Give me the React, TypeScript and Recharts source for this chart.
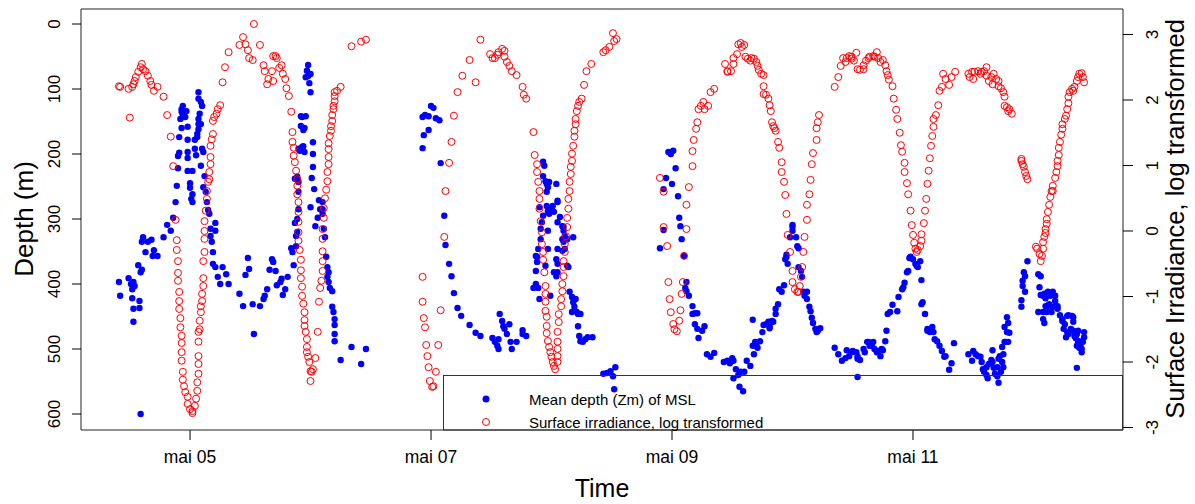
import { ScatterChart, Scatter, XAxis, YAxis, ReferenceArea } from 'recharts';

// time in days of May, depth in m, irradiance log-transformed
const timeTicks = [5, 7, 9, 11];
const depthTicks = [0, 100, 200, 300, 400, 500, 600];
const irradianceTicks = [-3, -2, -1, 0, 1, 2, 3];

const depthPoints: [number, number][] = [
  [4.41, 397], [4.42, 418], [4.49, 391], [4.51, 400], [4.52, 408], [4.53, 397], [4.54, 403], [4.52, 422], [4.53, 438],
  [4.58, 426], [4.58, 437], [4.53, 458], [4.57, 371], [4.59, 382], [4.6, 378], [4.59, 600], [4.61, 328], [4.6, 335],
  [4.63, 351], [4.65, 335], [4.68, 332], [4.7, 348], [4.69, 357], [4.73, 357], [4.78, 328], [4.81, 309], [4.84, 318],
  [4.86, 298], [4.88, 274], [4.89, 249], [4.9, 222], [4.9, 203], [4.91, 198], [4.91, 174], [4.93, 160], [4.92, 146],
  [4.93, 135], [4.93, 131], [4.94, 126], [4.94, 140], [4.96, 143], [4.97, 134], [4.98, 158], [4.98, 178], [4.98, 197],
  [4.98, 206], [4.98, 226], [5.0, 245], [5.0, 252], [5.02, 226], [5.01, 269], [5.02, 274], [5.02, 262], [5.04, 192],
  [5.05, 202], [5.07, 105], [5.07, 115], [5.09, 120], [5.1, 126], [5.08, 138], [5.07, 146], [5.07, 154], [5.07, 162],
  [5.09, 154], [5.06, 169], [5.04, 178], [5.06, 174], [5.1, 192], [5.11, 197], [5.09, 218], [5.12, 234], [5.11, 251],
  [5.13, 258], [5.14, 274], [5.15, 286], [5.16, 292], [5.17, 315], [5.17, 326], [5.18, 335], [5.19, 351], [5.21, 306],
  [5.21, 318], [5.19, 369], [5.21, 374], [5.23, 389], [5.25, 400], [5.27, 374], [5.3, 385], [5.32, 400], [5.41, 415],
  [5.44, 434], [5.46, 386], [5.48, 360], [5.49, 377], [5.52, 431], [5.53, 477], [5.58, 434], [5.61, 423], [5.62, 418],
  [5.64, 408], [5.66, 378], [5.68, 362], [5.69, 366], [5.71, 380], [5.72, 402], [5.75, 397], [5.76, 392], [5.77, 417],
  [5.79, 408], [5.81, 389], [5.84, 345], [5.85, 351], [5.86, 371], [5.88, 342], [5.88, 326], [5.89, 320], [5.87, 306],
  [5.89, 300], [5.9, 285], [5.9, 258], [5.9, 243], [5.87, 238], [5.89, 235], [5.91, 195], [5.93, 189], [5.94, 188],
  [5.95, 197], [5.9, 192], [5.92, 142], [5.93, 143], [5.96, 142], [5.92, 157], [5.94, 163], [5.95, 160], [5.98, 63],
  [5.97, 72], [5.96, 82], [5.98, 80], [6.0, 77], [5.99, 91], [6.0, 105], [6.02, 182], [6.02, 200], [6.02, 220],
  [6.01, 237], [6.03, 254], [6.0, 282], [6.07, 271], [6.1, 274], [6.1, 285], [6.08, 285], [6.1, 292], [6.06, 298],
  [6.04, 311], [6.11, 315], [6.12, 328], [6.13, 358], [6.14, 374], [6.15, 382], [6.14, 389], [6.15, 397], [6.16, 406],
  [6.18, 411], [6.18, 435], [6.19, 443], [6.2, 454], [6.2, 463], [6.2, 477], [6.2, 488], [6.25, 517], [6.34, 497],
  [6.42, 523], [6.46, 500],
  [6.93, 143], [6.95, 140], [6.98, 142], [7.0, 126], [7.02, 129], [7.04, 145], [7.07, 148], [6.94, 171], [6.98, 163],
  [6.93, 191], [7.08, 214], [7.11, 295], [7.12, 340], [7.15, 369], [7.17, 388], [7.19, 414], [7.22, 437], [7.25, 449],
  [7.32, 463], [7.37, 475], [7.41, 480], [7.51, 483], [7.53, 489], [7.55, 495], [7.56, 500], [7.56, 485], [7.57, 446],
  [7.59, 457], [7.6, 465], [7.61, 469], [7.63, 477], [7.65, 462], [7.66, 489], [7.67, 500], [7.71, 489], [7.76, 471],
  [7.76, 477], [7.79, 480], [7.85, 406], [7.87, 400], [7.89, 406], [7.9, 423], [7.87, 380], [7.88, 366], [7.88, 358],
  [7.89, 346], [7.87, 357], [7.91, 331], [7.91, 315], [7.92, 305], [7.93, 295], [7.9, 282], [7.93, 212], [7.94, 218],
  [7.93, 234], [7.95, 242], [7.96, 246], [7.97, 251], [7.98, 243], [7.96, 258], [7.96, 280], [7.97, 288], [7.98, 292],
  [8.0, 285], [8.01, 280], [8.02, 289], [8.05, 272], [8.05, 274], [8.04, 246], [8.05, 305], [8.07, 297], [8.09, 311],
  [8.1, 318], [8.1, 312], [8.11, 326], [8.13, 331], [8.09, 331], [8.1, 335], [8.11, 346], [8.09, 349], [8.05, 346],
  [8.04, 362], [8.05, 369], [8.13, 372], [8.14, 374], [8.18, 328], [8.02, 382], [8.04, 388], [8.05, 382], [7.97, 318],
  [7.97, 346], [7.99, 418], [7.95, 372], [8.15, 412], [8.17, 420], [8.18, 428], [8.19, 435], [8.17, 443], [8.2, 423],
  [8.21, 443], [8.22, 446], [8.24, 446], [8.22, 465], [8.23, 480], [8.24, 488], [8.26, 489], [8.28, 485], [8.3, 482],
  [8.34, 482], [8.43, 538], [8.46, 537], [8.49, 534], [8.51, 542], [8.53, 528], [8.52, 562],
  [8.97, 197], [8.99, 200], [9.01, 195], [9.03, 222], [8.95, 237], [8.93, 254], [9.0, 246], [9.05, 265], [9.06, 298],
  [9.07, 311], [8.93, 317], [8.9, 345], [9.08, 331], [9.1, 357], [9.12, 397], [9.11, 406], [9.12, 411], [9.14, 418],
  [9.17, 434], [9.17, 446], [9.19, 445], [9.21, 445], [9.19, 462], [9.21, 469], [9.22, 483], [9.27, 465], [9.25, 472],
  [9.29, 508], [9.32, 512], [9.35, 506], [9.43, 520], [9.46, 518], [9.48, 522], [9.5, 514], [9.51, 518], [9.53, 531],
  [9.55, 540], [9.51, 545], [9.57, 535], [9.6, 535], [9.56, 558], [9.59, 565], [9.62, 518], [9.65, 526], [9.67, 455],
  [9.67, 495], [9.68, 508], [9.7, 495], [9.71, 498], [9.69, 489], [9.73, 488], [9.75, 474], [9.76, 463], [9.78, 462],
  [9.8, 458], [9.81, 465], [9.83, 457], [9.84, 458], [9.81, 468], [9.86, 446], [9.86, 438], [9.88, 431], [9.89, 408],
  [9.91, 412], [9.93, 402], [9.94, 362], [9.95, 358], [9.95, 355], [9.96, 369], [9.98, 328], [10.0, 318], [10.0, 312],
  [10.0, 309], [10.03, 328], [10.04, 342], [10.05, 345], [10.05, 374], [10.07, 380], [10.08, 389], [10.09, 412],
  [10.1, 418], [10.12, 412], [10.12, 423], [10.14, 435], [10.15, 442], [10.16, 452], [10.17, 460], [10.19, 469],
  [10.2, 474], [10.21, 472], [10.23, 468],
  [10.35, 498], [10.38, 508], [10.41, 518], [10.44, 514], [10.45, 502], [10.47, 511], [10.49, 505], [10.5, 503],
  [10.53, 505], [10.54, 515], [10.54, 511], [10.56, 517], [10.54, 543], [10.59, 500], [10.6, 505], [10.62, 489],
  [10.63, 489], [10.64, 495], [10.66, 495], [10.67, 489], [10.68, 500], [10.7, 505], [10.71, 503], [10.73, 511],
  [10.74, 500], [10.75, 502], [10.77, 488], [10.78, 472], [10.79, 446], [10.81, 443], [10.83, 432], [10.87, 442],
  [10.88, 420], [10.91, 408], [10.92, 405], [10.93, 398], [10.95, 382], [10.96, 380], [10.97, 360], [10.98, 358],
  [11.0, 362], [11.02, 369], [11.03, 372], [11.04, 374], [11.06, 365], [11.07, 394], [11.08, 428], [11.07, 431],
  [11.1, 446], [11.12, 472], [11.12, 469], [11.14, 474], [11.16, 466], [11.17, 474], [11.18, 485], [11.2, 488],
  [11.22, 495], [11.24, 503], [11.26, 512], [11.27, 511], [11.3, 532], [11.32, 522], [11.34, 491],
  [11.46, 508], [11.49, 518], [11.5, 503], [11.52, 508], [11.54, 511], [11.56, 512], [11.57, 520], [11.58, 531],
  [11.59, 535], [11.61, 540], [11.62, 545], [11.61, 528], [11.63, 523], [11.65, 517], [11.66, 502], [11.66, 520],
  [11.67, 529], [11.68, 538], [11.7, 542], [11.71, 552], [11.7, 528], [11.71, 515], [11.72, 511], [11.74, 520],
  [11.75, 528], [11.73, 535], [11.75, 508], [11.74, 497], [11.76, 489], [11.77, 489], [11.79, 489], [11.8, 475],
  [11.78, 474], [11.76, 466], [11.79, 460], [11.78, 451],
  [11.95, 365], [11.92, 382], [11.93, 388], [11.91, 395], [11.91, 403], [11.93, 412], [11.9, 425], [11.9, 435],
  [12.04, 385], [12.06, 388], [12.05, 405], [12.06, 417], [12.08, 418], [12.09, 415], [12.1, 422], [12.12, 412],
  [12.14, 418], [12.15, 415], [12.16, 412], [12.18, 418], [12.18, 426], [12.2, 434], [12.2, 438], [12.16, 435],
  [12.13, 431], [12.11, 437], [12.1, 434], [12.08, 443], [12.11, 443], [12.15, 443], [12.04, 443], [12.09, 460],
  [12.08, 454], [12.22, 448], [12.24, 454], [12.24, 457], [12.26, 462], [12.28, 449], [12.29, 448], [12.32, 449],
  [12.33, 451], [12.33, 458], [12.25, 469], [12.28, 474], [12.27, 482], [12.29, 477], [12.31, 469], [12.33, 472],
  [12.34, 480], [12.35, 483], [12.36, 477], [12.37, 472], [12.38, 488], [12.39, 495], [12.4, 500], [12.4, 505],
  [12.41, 489], [12.42, 482], [12.42, 474], [12.37, 489], [12.36, 495], [12.38, 498], [12.36, 529],
];

const irradiancePoints: [number, number][] = [
  [4.41, 2.21], [4.42, 2.2], [4.49, 2.17], [4.52, 2.2], [4.53, 2.24], [4.54, 2.29], [4.55, 2.35], [4.57, 2.43],
  [4.59, 2.5], [4.6, 2.55], [4.61, 2.47], [4.63, 2.44], [4.65, 2.37], [4.67, 2.29], [4.68, 2.23], [4.7, 2.14],
  [4.73, 2.2], [4.78, 2.05], [4.5, 1.73], [4.81, 1.77], [4.84, 1.44], [4.86, 0.99], [4.88, 0.17], [4.89, -0.14],
  [4.89, -0.29], [4.9, -0.46], [4.9, -0.64], [4.9, -0.76], [4.91, -0.93], [4.91, -1.07], [4.91, -1.19], [4.92, -1.33],
  [4.92, -1.47], [4.93, -1.6], [4.93, -1.71], [4.93, -1.85], [4.93, -1.98], [4.94, -2.15], [4.94, -2.27], [4.95, -2.37],
  [4.96, -2.46], [4.98, -2.53], [4.98, -2.64], [5.0, -2.72], [5.02, -2.78], [5.02, -2.75], [5.04, -2.67], [5.05, -2.56],
  [5.06, -2.44], [5.06, -2.31], [5.07, -2.18], [5.07, -2.03], [5.07, -1.91], [5.07, -1.69], [5.07, -1.54], [5.08, -1.5],
  [5.08, -1.37], [5.09, -1.24], [5.09, -1.15], [5.1, -1.07], [5.1, -0.96], [5.11, -0.84], [5.11, -0.72], [5.11, -0.46],
  [5.12, -0.32], [5.12, -0.12], [5.12, 0.0], [5.12, 0.15], [5.13, 0.31], [5.14, 0.49], [5.14, 0.61], [5.15, 0.75],
  [5.16, 0.79], [5.16, 0.9], [5.17, 1.02], [5.17, 1.13], [5.17, 1.3], [5.18, 1.4], [5.19, 1.48], [5.19, 1.68],
  [5.2, 1.74], [5.22, 1.79], [5.23, 1.86], [5.25, 1.92], [5.27, 2.27], [5.29, 2.5], [5.32, 2.73], [5.41, 2.84],
  [5.44, 2.96], [5.46, 2.85], [5.48, 2.76], [5.49, 2.64], [5.52, 2.61], [5.53, 3.16], [5.58, 2.84], [5.61, 2.53],
  [5.62, 2.44], [5.65, 2.32], [5.64, 2.24], [5.68, 2.44], [5.69, 2.67], [5.71, 2.67], [5.72, 2.64], [5.69, 2.29],
  [5.74, 2.49], [5.76, 2.53], [5.77, 2.4], [5.79, 2.32], [5.8, 2.18], [5.82, 2.06], [5.84, 1.82], [5.85, 1.51],
  [5.85, 1.36], [5.86, 1.27], [5.86, 1.15], [5.87, 1.05], [5.88, 0.92], [5.89, 0.79], [5.89, 0.69], [5.89, 0.56],
  [5.9, 0.44], [5.9, 0.29], [5.9, 0.14], [5.9, -0.02], [5.9, -0.15], [5.91, -0.29], [5.92, -0.44], [5.92, -0.6],
  [5.92, -0.72], [5.93, -0.85], [5.93, -0.99], [5.94, -1.11], [5.95, -1.24], [5.95, -1.36], [5.95, -1.45], [5.96, -1.54],
  [5.97, -1.65], [5.97, -1.77], [5.97, -1.85], [5.98, -1.92], [5.99, -2.0], [6.0, -2.14], [6.01, -2.15], [6.02, -2.11],
  [6.0, -2.29], [6.04, -1.94], [6.06, -1.54], [6.07, -1.08], [6.08, -0.87], [6.09, -0.76], [6.1, -0.61], [6.1, -0.46],
  [6.1, -0.31], [6.1, -0.12], [6.1, 0.03], [6.11, 0.2], [6.11, 0.35], [6.12, 0.5], [6.13, 0.63], [6.14, 0.76],
  [6.14, 0.9], [6.15, 1.02], [6.15, 1.13], [6.15, 1.25], [6.15, 1.34], [6.16, 1.45], [6.17, 1.53], [6.17, 1.6],
  [6.18, 1.68], [6.18, 1.77], [6.19, 1.86], [6.19, 1.91], [6.2, 1.98], [6.2, 2.06], [6.2, 2.12], [6.22, 2.14],
  [6.25, 2.2], [6.34, 2.82], [6.42, 2.89], [6.46, 2.92],
  [6.93, -0.7], [6.93, -1.08], [6.94, -1.33], [6.95, -1.47], [6.96, -1.74], [6.97, -1.91], [6.98, -2.08], [6.99, -2.29],
  [7.01, -2.38], [7.02, -2.37], [7.04, -2.15], [7.06, -1.74], [7.08, -1.21], [7.11, -0.09], [7.12, 0.61], [7.15, 1.04],
  [7.17, 1.36], [7.19, 1.76], [7.22, 2.12], [7.26, 2.37], [7.32, 2.61], [7.37, 2.27], [7.41, 2.92], [7.49, 2.7],
  [7.51, 2.64], [7.53, 2.64], [7.55, 2.69], [7.56, 2.73], [7.59, 2.78], [7.61, 2.75], [7.61, 2.66], [7.63, 2.58],
  [7.65, 2.52], [7.67, 2.44], [7.71, 2.38], [7.76, 2.2], [7.77, 2.08], [7.79, 2.02], [7.85, 1.51], [7.86, 1.16],
  [7.88, 1.02], [7.88, 0.9], [7.89, 0.75], [7.9, 0.61], [7.9, 0.49], [7.9, 0.34], [7.91, 0.15], [7.92, -0.02],
  [7.92, -0.2], [7.93, -0.32], [7.93, -0.44], [7.94, -0.63], [7.95, -0.84], [7.95, -0.96], [7.95, -1.08], [7.95, -1.22],
  [7.96, -1.31], [7.96, -1.45], [7.96, -1.56], [7.97, -1.68], [7.98, -1.77], [7.99, -1.85], [8.0, -1.92], [8.01, -2.0],
  [8.02, -2.06], [8.03, -2.11], [8.05, -2.0], [8.05, -1.91], [8.05, -1.8], [8.05, -1.69], [8.05, -1.54], [8.06, -1.39],
  [8.06, -1.27], [8.08, -1.15], [8.08, -1.04], [8.09, -0.92], [8.09, -0.81], [8.1, -0.69], [8.1, -0.55], [8.1, -0.46],
  [8.11, -0.32], [8.11, -0.2], [8.12, -0.08], [8.13, 0.06], [8.13, 0.2], [8.14, 0.34], [8.14, 0.49], [8.15, 0.61],
  [8.15, 0.75], [8.16, 0.87], [8.16, 0.98], [8.17, 1.07], [8.17, 1.18], [8.18, 1.3], [8.19, 1.44], [8.19, 1.53],
  [8.2, 1.63], [8.2, 1.71], [8.21, 1.83], [8.22, 1.91], [8.23, 1.97], [8.25, 2.02], [8.27, 2.23], [8.29, 2.44],
  [8.33, 2.55], [8.43, 2.73], [8.45, 2.76], [8.48, 2.81], [8.51, 3.02], [8.52, 2.9], [8.54, 2.93],
  [8.9, 0.81], [8.93, 0.6], [8.93, 0.06], [8.96, -0.23], [8.97, -0.78], [8.98, -1.04], [8.99, -1.24], [9.01, -1.42],
  [9.02, -1.5], [9.04, -1.53], [9.06, -1.37], [9.07, -1.21], [9.08, -0.96], [9.09, -0.78], [9.1, -0.38], [9.12, 0.03],
  [9.12, 0.4], [9.14, 0.67], [9.17, 0.99], [9.17, 1.22], [9.18, 1.39], [9.2, 1.56], [9.21, 1.66], [9.22, 1.86],
  [9.24, 1.91], [9.26, 1.97], [9.27, 1.86], [9.3, 1.91], [9.32, 2.12], [9.35, 2.17], [9.44, 2.55], [9.46, 2.43],
  [9.46, 2.44], [9.49, 2.44], [9.51, 2.55], [9.51, 2.64], [9.54, 2.7], [9.55, 2.85], [9.57, 2.87], [9.58, 2.81],
  [9.6, 2.84], [9.61, 2.66], [9.63, 2.63], [9.65, 2.6], [9.66, 2.64], [9.68, 2.63], [9.7, 2.58], [9.71, 2.52],
  [9.72, 2.46], [9.74, 2.4], [9.76, 2.38], [9.76, 2.21], [9.76, 2.09], [9.78, 2.08], [9.8, 2.02], [9.81, 1.92],
  [9.82, 1.83], [9.83, 1.66], [9.84, 1.6], [9.85, 1.57], [9.86, 1.53], [9.88, 1.36], [9.89, 1.27], [9.91, 1.05],
  [9.91, 0.9], [9.93, 0.75], [9.94, 0.55], [9.95, 0.26], [9.96, -0.06], [9.98, -0.32], [10.0, -0.61], [10.0, -0.78],
  [10.02, -0.89], [10.04, -0.93], [10.05, -0.93], [10.06, -0.84], [10.07, -0.7], [10.08, -0.55], [10.09, -0.32],
  [10.1, -0.09], [10.12, 0.17], [10.12, 0.4], [10.14, 0.56], [10.15, 0.78], [10.16, 1.02], [10.17, 1.19], [10.2, 1.39],
  [10.2, 1.57], [10.21, 1.66], [10.22, 1.77],
  [10.35, 2.2], [10.38, 2.35], [10.4, 2.52], [10.42, 2.64], [10.44, 2.58], [10.45, 2.64], [10.47, 2.67], [10.49, 2.63],
  [10.49, 2.66], [10.51, 2.6], [10.53, 2.72], [10.54, 2.47], [10.56, 2.46], [10.59, 2.47], [10.59, 2.53], [10.61, 2.6],
  [10.63, 2.64], [10.64, 2.66], [10.67, 2.67], [10.68, 2.66], [10.7, 2.73], [10.71, 2.64], [10.73, 2.58], [10.75, 2.61],
  [10.77, 2.53], [10.78, 2.44], [10.79, 2.38], [10.8, 2.31], [10.83, 2.21], [10.84, 2.02], [10.86, 1.85], [10.87, 1.71],
  [10.89, 1.5], [10.9, 1.31], [10.91, 1.21], [10.93, 1.04], [10.93, 0.9], [10.95, 0.73], [10.96, 0.56], [10.98, 0.31],
  [10.99, 0.09], [11.0, -0.06], [11.01, -0.18], [11.02, -0.27], [11.03, -0.32], [11.04, -0.29], [11.06, -0.23],
  [11.07, -0.15], [11.07, -0.05], [11.09, 0.12], [11.1, 0.31], [11.11, 0.49], [11.12, 0.72], [11.13, 0.92],
  [11.14, 1.11], [11.15, 1.3], [11.16, 1.45], [11.17, 1.59], [11.17, 1.71], [11.19, 1.77], [11.21, 1.92], [11.22, 2.14],
  [11.24, 2.2], [11.25, 2.4], [11.27, 2.32], [11.3, 2.23], [11.32, 2.35], [11.35, 2.43],
  [11.46, 2.4], [11.47, 2.35], [11.49, 2.43], [11.5, 2.32], [11.51, 2.43], [11.54, 2.44], [11.56, 2.4], [11.57, 2.43],
  [11.59, 2.44], [11.61, 2.5], [11.61, 2.37], [11.63, 2.29], [11.65, 2.35], [11.66, 2.24], [11.67, 2.4], [11.69, 2.32],
  [11.71, 2.21], [11.71, 2.29], [11.73, 2.18], [11.75, 2.12], [11.76, 2.05], [11.76, 1.91], [11.78, 1.89], [11.79, 1.83],
  [11.8, 1.86], [11.82, 1.79],
  [11.9, 1.1], [11.9, 1.07], [11.91, 1.02], [11.92, 0.98], [11.93, 0.9], [11.94, 0.84], [11.95, 0.79],
  [12.02, -0.24], [12.03, -0.27], [12.05, -0.35], [12.06, -0.46], [12.07, -0.38], [12.08, -0.27], [12.08, -0.17],
  [12.09, -0.09], [12.1, -0.03], [12.1, 0.03], [12.11, 0.11], [12.11, 0.18], [12.12, 0.29], [12.13, 0.4], [12.14, 0.52],
  [12.15, 0.61], [12.16, 0.61], [12.16, 0.69], [12.18, 0.81], [12.19, 0.9], [12.2, 0.99], [12.2, 1.07], [12.21, 1.16],
  [12.21, 1.27], [12.22, 1.36], [12.23, 1.47], [12.24, 1.56], [12.24, 1.63], [12.26, 1.71], [12.27, 1.76], [12.28, 1.86],
  [12.29, 1.95], [12.29, 2.05], [12.3, 2.12], [12.32, 2.17], [12.33, 2.14], [12.34, 2.2], [12.36, 2.29], [12.37, 2.35],
  [12.38, 2.4], [12.4, 2.41], [12.41, 2.35], [12.42, 2.27],
];

const depthData = depthPoints.map(([t, v]) => ({ t, v }));
const irradianceData = irradiancePoints.map(([t, v]) => ({ t, v }));

const X_MIN = 4.095;
const X_MAX = 12.743;
const DEPTH_MIN = -23.1;
const DEPTH_MAX = 624.6;
const IRR_MIN = -3.038;
const IRR_MAX = 3.389;

const FONT = "'Liberation Sans', Arial, sans-serif";

const dayLabel = (d: number) => 'mai ' + String(d).padStart(2, '0');

const LeftTick = ({ y, payload }: any) => (
  <text x={60} y={y} transform={`rotate(-90 60 ${y})`} textAnchor="middle" fontSize={17} fontFamily={FONT} fill="#000">
    {payload.value}
  </text>
);

const RightTick = ({ y, payload }: any) => (
  <text x={1158} y={y} transform={`rotate(-90 1158 ${y})`} textAnchor="middle" fontSize={17} fontFamily={FONT} fill="#000">
    {payload.value}
  </text>
);

const BottomTick = ({ x, payload }: any) => (
  <text x={x} y={463} textAnchor="middle" fontSize={17.5} fontFamily={FONT} fill="#000">
    {dayLabel(payload.value)}
  </text>
);

export default function App() {
  return (
    <div style={{ position: 'absolute', left: 0, top: 0, width: 1195, height: 504, background: '#fff', fontFamily: FONT }}>
      <ScatterChart width={1195} height={504} margin={{ top: 9, right: 0, bottom: 0, left: 0 }}>
        <XAxis
          dataKey="t"
          type="number"
          domain={[X_MIN, X_MAX]}
          ticks={timeTicks}
          height={74}
          tickSize={10}
          axisLine={false}
          tickLine={{ stroke: '#000' }}
          tick={<BottomTick />}
          allowDataOverflow
        />
        <YAxis
          yAxisId="depth"
          dataKey="v"
          type="number"
          domain={[DEPTH_MIN, DEPTH_MAX]}
          reversed
          ticks={depthTicks}
          width={81}
          tickSize={9}
          axisLine={false}
          tickLine={{ stroke: '#000' }}
          tick={<LeftTick />}
          allowDataOverflow
        />
        <YAxis
          yAxisId="irr"
          orientation="right"
          dataKey="v"
          type="number"
          domain={[IRR_MIN, IRR_MAX]}
          ticks={irradianceTicks}
          width={72}
          tickSize={10}
          axisLine={false}
          tickLine={{ stroke: '#000' }}
          tick={<RightTick />}
          allowDataOverflow
        />
        <ReferenceArea
          yAxisId="depth"
          x1={X_MIN}
          x2={X_MAX}
          y1={DEPTH_MIN}
          y2={DEPTH_MAX}
          fill="none"
          fillOpacity={0}
          stroke="#222"
          strokeWidth={1}
        />
        <Scatter
          yAxisId="depth"
          data={depthData}
          isAnimationActive={false}
          shape={(p: any) => <circle cx={p.cx} cy={p.cy} r={3.2} fill="#0000ff" />}
        />
        <Scatter
          yAxisId="irr"
          data={irradianceData}
          isAnimationActive={false}
          shape={(p: any) => <circle cx={p.cx} cy={p.cy} r={3.5} fill="none" stroke="#ff0000" strokeWidth={1} />}
        />
      </ScatterChart>
      <svg width={1195} height={504} style={{ position: 'absolute', left: 0, top: 0, pointerEvents: 'none' }}>
        <text x={602} y={497} textAnchor="middle" fontSize={25} fontFamily={FONT} fill="#000">Time</text>
        <text x={33} y={219} transform="rotate(-90 33 219)" textAnchor="middle" fontSize={26} fontFamily={FONT} fill="#000">
          Depth (m)
        </text>
        <text x={1184} y={219} transform="rotate(-90 1184 219)" textAnchor="middle" fontSize={25.5} fontFamily={FONT} fill="#000">
          Surface Irradiance, log transformed
        </text>
        <rect x={443.5} y={375.5} width={679} height={54.5} fill="none" stroke="#333" strokeWidth={1} />
        <circle cx={486} cy={399} r={3.5} fill="#0000ff" />
        <circle cx={486} cy={422} r={3.5} fill="none" stroke="#ff0000" strokeWidth={1} />
        <text x={529} y={405} fontSize={15} fontFamily={FONT} fill="#000">Mean depth (Zm) of MSL</text>
        <text x={529} y={428} fontSize={15} fontFamily={FONT} fill="#000">Surface irradiance, log transformed</text>
      </svg>
    </div>
  );
}
